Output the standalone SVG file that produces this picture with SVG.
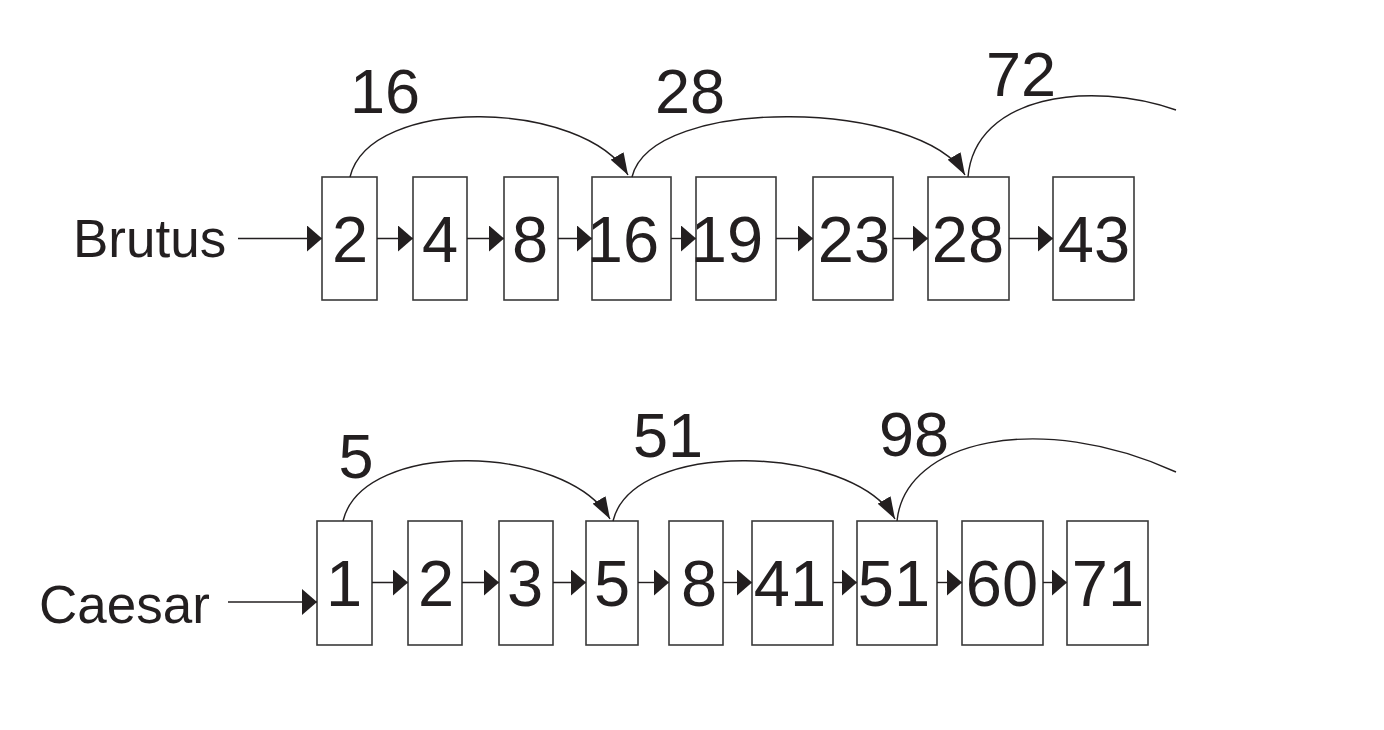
<svg xmlns="http://www.w3.org/2000/svg" width="1384" height="730" viewBox="0 0 1384 730">
  <defs>
    <style>
      .box { fill: #ffffff; stroke: #3a3a3a; stroke-width: 1.6; }
      .num { font-family: "Liberation Sans", Arial, Helvetica, sans-serif; font-size: 65px; fill: #231f20; text-anchor: middle; }
      .lbl { font-family: "Liberation Sans", Arial, Helvetica, sans-serif; font-size: 63px; fill: #231f20; text-anchor: middle; }
      .term { font-family: "Liberation Sans", Arial, Helvetica, sans-serif; font-size: 53px; fill: #231f20; }
      .link { fill: none; stroke: #231f20; stroke-width: 1.4; }
    </style>
    <marker id="ah" markerUnits="userSpaceOnUse" markerWidth="15" markerHeight="26" refX="15" refY="13" orient="auto" viewBox="0 0 15 26">
      <path d="M0,0 L15,13 L0,26 Z" fill="#231f20"/>
    </marker>
    <marker id="ac" markerUnits="userSpaceOnUse" markerWidth="22" markerHeight="15" refX="22" refY="7.5" orient="auto" viewBox="0 0 22 15">
      <path d="M0,0 L22,7.5 L0,15 Z" fill="#231f20"/>
    </marker>
  </defs>
  <rect width="1384" height="730" fill="#ffffff"/>

  <!-- Brutus list -->
  <g id="brutus-label"><text class="term" x="73" y="257">Brutus</text></g>
  <g id="b2"><rect class="box" x="322" y="177" width="55" height="123"/><text class="num" x="350" y="261.5">2</text></g>
  <g id="b4"><rect class="box" x="413" y="177" width="54" height="123"/><text class="num" x="440" y="261.5">4</text></g>
  <g id="b8"><rect class="box" x="504" y="177" width="54" height="123"/><text class="num" x="530" y="261.5">8</text></g>
  <g id="b16"><rect class="box" x="592" y="177" width="79" height="123"/><text class="num" x="623" y="261.5">16</text></g>
  <g id="b19"><rect class="box" x="696" y="177" width="80" height="123"/><text class="num" x="727" y="261.5">19</text></g>
  <g id="b23"><rect class="box" x="813" y="177" width="80" height="123"/><text class="num" x="854" y="261.5">23</text></g>
  <g id="b28"><rect class="box" x="928" y="177" width="81" height="123"/><text class="num" x="968" y="261.5">28</text></g>
  <g id="b43"><rect class="box" x="1053" y="177" width="81" height="123"/><text class="num" x="1094" y="261.5">43</text></g>

  <!-- Caesar list -->
  <g id="caesar-label"><text class="term" x="39" y="623">Caesar</text></g>
  <g id="c1"><rect class="box" x="317" y="521" width="55" height="124"/><text class="num" x="344" y="605.5">1</text></g>
  <g id="c2"><rect class="box" x="408" y="521" width="54" height="124"/><text class="num" x="436" y="605.5">2</text></g>
  <g id="c3"><rect class="box" x="499" y="521" width="54" height="124"/><text class="num" x="525" y="605.5">3</text></g>
  <g id="c5"><rect class="box" x="586" y="521" width="52" height="124"/><text class="num" x="612" y="605.5">5</text></g>
  <g id="c8"><rect class="box" x="669" y="521" width="54" height="124"/><text class="num" x="699" y="605.5">8</text></g>
  <g id="c41"><rect class="box" x="752" y="521" width="81" height="124"/><text class="num" x="790" y="605.5">41</text></g>
  <g id="c51"><rect class="box" x="857" y="521" width="80" height="124"/><text class="num" x="894" y="605.5">51</text></g>
  <g id="c60"><rect class="box" x="962" y="521" width="81" height="124"/><text class="num" x="1002" y="605.5">60</text></g>
  <g id="c71"><rect class="box" x="1067" y="521" width="81" height="124"/><text class="num" x="1108" y="605.5">71</text></g>

  <!-- skip labels -->
  <g id="skip-labels">
    <text class="lbl" x="385" y="113">16</text>
    <text class="lbl" x="690" y="113">28</text>
    <text class="lbl" x="1021" y="96">72</text>
    <text class="lbl" x="356" y="478">5</text>
    <text class="lbl" x="668" y="457">51</text>
    <text class="lbl" x="914" y="456">98</text>
  </g>

  <!-- connectors -->
  <g id="connectors">
    <path class="link" d="M238,238.5 H322" marker-end="url(#ah)"/>
    <path class="link" d="M377,238.5 H413" marker-end="url(#ah)"/>
    <path class="link" d="M467,238.5 H504" marker-end="url(#ah)"/>
    <path class="link" d="M558,238.5 H592" marker-end="url(#ah)"/>
    <path class="link" d="M671,238.5 H696" marker-end="url(#ah)"/>
    <path class="link" d="M776,238.5 H813" marker-end="url(#ah)"/>
    <path class="link" d="M893,238.5 H928" marker-end="url(#ah)"/>
    <path class="link" d="M1009,238.5 H1053" marker-end="url(#ah)"/>

    <path class="link" d="M228,602 H317" marker-end="url(#ah)"/>
    <path class="link" d="M372,582.5 H408" marker-end="url(#ah)"/>
    <path class="link" d="M462,582.5 H499" marker-end="url(#ah)"/>
    <path class="link" d="M553,582.5 H586" marker-end="url(#ah)"/>
    <path class="link" d="M638,582.5 H669" marker-end="url(#ah)"/>
    <path class="link" d="M723,582.5 H752" marker-end="url(#ah)"/>
    <path class="link" d="M833,582.5 H857" marker-end="url(#ah)"/>
    <path class="link" d="M937,582.5 H962" marker-end="url(#ah)"/>
    <path class="link" d="M1043,582.5 H1067" marker-end="url(#ah)"/>

    <path class="link" d="M350,177 C370,94 585,100 628,175" marker-end="url(#ac)"/>
    <path class="link" d="M632,177 C652,94 922,100 965,175" marker-end="url(#ac)"/>
    <path class="link" d="M968,177 C975,95 1090,80 1176,110"/>

    <path class="link" d="M343,521 C363,438 567,444 610,519" marker-end="url(#ac)"/>
    <path class="link" d="M613,521 C633,438 852,444 895,519" marker-end="url(#ac)"/>
    <path class="link" d="M897,521 C905,440 1040,410 1176,472"/>
  </g>
</svg>
